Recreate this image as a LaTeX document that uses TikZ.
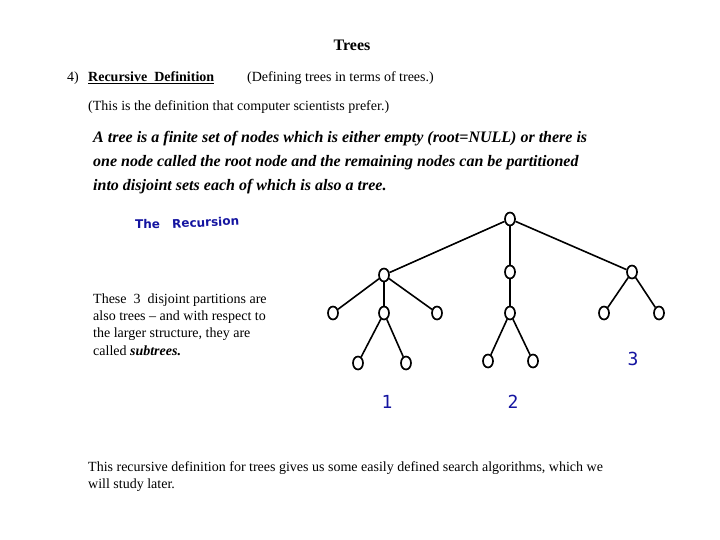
\documentclass[tikz,border=0pt]{standalone}
\usepackage{fontspec}
\setmainfont{Liberation Serif}
\newfontfamily\lblfont{DejaVu Sans Mono}
\newfontfamily\wordfont{DejaVu Sans}
\usetikzlibrary{shapes.geometric}
\definecolor{lblblue}{RGB}{20,20,160}
\begin{document}
\begin{tikzpicture}[x=1pt,y=-1pt,
  tn/.style={draw,ellipse,line width=1.7pt,minimum width=10pt,minimum height=13pt,inner sep=0pt,fill=white},
  edge/.style={line width=1.6pt},
  body/.style={font=\fontsize{14}{16}\selectfont,anchor=west,inner sep=0pt},
  defn/.style={font=\fontsize{16}{18}\selectfont\bfseries\itshape,anchor=west,inner sep=0pt},
  num/.style={font=\lblfont\fontsize{18}{20}\selectfont,text=lblblue,inner sep=0pt}]
\useasboundingbox (0,0) rectangle (720,540);
% texts
\node[font=\fontsize{16}{18}\selectfont\bfseries,inner sep=0pt] (title) at (352,45) {Trees};
\node[body] (four) at (67,78) {4)};
\node[body,font=\fontsize{14}{16}\selectfont\bfseries] (rd) at (88,78) {\underline{Recursive\ \ Definition}};
\node[body] (dt) at (247,78) {(Defining trees in terms of trees.)};
\node[body] (pref) at (88,107) {(This is the definition that computer scientists prefer.)};
\node[defn] (d1) at (93,139) {A tree is a finite set of nodes which is either empty (root=NULL) or there is};
\node[defn] (d2) at (93,163) {one node called the root node and the remaining nodes can be partitioned};
\node[defn] (d3) at (93,187) {into disjoint sets each of which is also a tree.};
\node[font=\wordfont\bfseries\fontsize{12}{14}\selectfont,text=lblblue,anchor=west,inner sep=0pt] (the) at (135,224) {The};
\node[font=\wordfont\bfseries\fontsize{12}{14}\selectfont,text=lblblue,anchor=west,inner sep=0pt,rotate=3] (rec) at (172,224) {Recursion};
\node[body] (p1) at (93,300) {These\ \ 3\ \ disjoint partitions are};
\node[body] (p2) at (93,317) {also trees -- and with respect to};
\node[body] (p3) at (93,334) {the larger structure, they are};
\node[body] (p4) at (93,351) {called \textbf{\textit{subtrees.}}};
\node[body] (b1) at (88,468) {This recursive definition for trees gives us some easily defined search algorithms, which we};
\node[body] (b2) at (88,485) {will study later.};
% tree nodes
\node[tn] (r) at (510,219) {};
\node[tn] (a) at (384,275) {};
\node[tn] (b) at (510,272) {};
\node[tn] (c) at (632,272) {};
\node[tn] (a1) at (333,313) {};
\node[tn] (a2) at (384,313) {};
\node[tn] (a3) at (437,313) {};
\node[tn] (b1n) at (510,313) {};
\node[tn] (c1) at (604,313) {};
\node[tn] (c2) at (659,313) {};
\node[tn] (a21) at (358,363) {};
\node[tn] (a22) at (406,363) {};
\node[tn] (b11) at (488,361) {};
\node[tn] (b12) at (533,361) {};
% edges
\foreach \u/\v in {r/a,r/b,r/c,a/a1,a/a2,a/a3,b/b1n,c/c1,c/c2,a2/a21,a2/a22,b1n/b11,b1n/b12}
  \draw[edge] (\u) -- (\v);
% labels
\node[num] (n1) at (387,402) {1};
\node[num] (n2) at (513,402) {2};
\node[num] (n3) at (633,359) {3};
\end{tikzpicture}
\end{document}
